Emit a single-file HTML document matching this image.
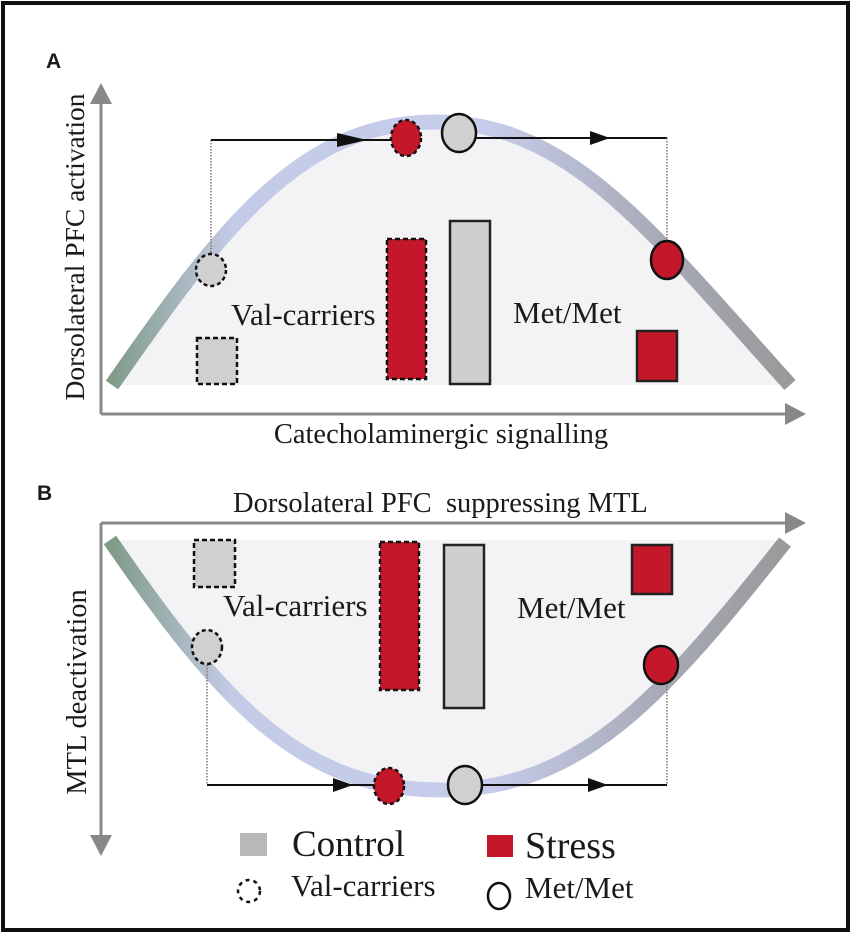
<!DOCTYPE html>
<html><head><meta charset="utf-8"><style>
html,body{margin:0;padding:0;background:#fff;}
svg{display:block;}
text{font-family:"Liberation Serif",serif;fill:#1a1a1a;}
</style></head><body>
<svg width="851" height="934" viewBox="0 0 851 934" xmlns="http://www.w3.org/2000/svg">
<defs>
<linearGradient id="gA" x1="110" y1="0" x2="790" y2="0" gradientUnits="userSpaceOnUse">
<stop offset="0" stop-color="#7f9a86"/><stop offset="0.18" stop-color="#c3cbe6"/><stop offset="0.55" stop-color="#c7cdec"/><stop offset="0.8" stop-color="#a8abb8"/><stop offset="1" stop-color="#999"/>
</linearGradient>
</defs>
<rect x="3" y="3" width="845" height="927" fill="#fff" stroke="#111" stroke-width="4"/>
<text x="46" y="68" style="font-family:'Liberation Sans',sans-serif;font-weight:bold;font-size:21px">A</text>
<text x="37" y="500" style="font-family:'Liberation Sans',sans-serif;font-weight:bold;font-size:21px">B</text>

<!-- Panel A -->
<path d="M112,385 C220,230 300,122 435,122 C570,122 650,230 790,385 Z" fill="#f3f3f6"/>
<path d="M112,385 C220,230 300,122 435,122 C570,122 650,230 790,385" fill="none" stroke="url(#gA)" stroke-width="15"/>
<line x1="101" y1="414" x2="101" y2="100" stroke="#888" stroke-width="3"/>
<path d="M101,83 L90,104 L112,104 z" fill="#888"/>
<line x1="101" y1="414" x2="790" y2="414" stroke="#888" stroke-width="3"/>
<path d="M806,414 L785,403 L785,425 z" fill="#888"/>
<text transform="translate(84,247) rotate(-90)" text-anchor="middle" font-size="27.5">Dorsolateral PFC activation</text>
<text x="441" y="443" text-anchor="middle" font-size="28.5">Catecholaminergic signalling</text>

<line x1="211" y1="140" x2="211" y2="256" stroke="#8a7070" stroke-width="1.5" stroke-dasharray="1.5,1.5"/>
<line x1="211" y1="140" x2="392" y2="140" stroke="#111" stroke-width="2"/>
<path d="M367,140 L337,133 L337,147 z" fill="#111"/>
<line x1="476" y1="138" x2="667" y2="138" stroke="#111" stroke-width="2"/>
<path d="M610,138 L590,131 L590,145 z" fill="#111"/>
<line x1="667" y1="138" x2="667" y2="242" stroke="#8a7070" stroke-width="1.5" stroke-dasharray="1.5,1.5"/>
<ellipse cx="211" cy="270" rx="15" ry="16" fill="#d0d0d0" stroke="#111" stroke-width="2.5" stroke-dasharray="4,3"/>
<ellipse cx="406" cy="138" rx="15" ry="18" fill="#c4182a" stroke="#111" stroke-width="2.5" stroke-dasharray="4,3"/>
<ellipse cx="459" cy="133" rx="17" ry="19" fill="#d0d0d0" stroke="#111" stroke-width="2.5"/>
<ellipse cx="667" cy="260" rx="16" ry="19" fill="#c4182a" stroke="#111" stroke-width="2.5"/>
<rect x="197" y="338" width="40" height="46" fill="#d0d0d0" stroke="#111" stroke-width="2.5" stroke-dasharray="5,3"/>
<rect x="387" y="239" width="39" height="140" fill="#c4182a" stroke="#111" stroke-width="2.5" stroke-dasharray="5,3"/>
<rect x="450" y="221" width="40" height="163" fill="#cfcfcf" stroke="#222" stroke-width="2.5"/>
<rect x="637" y="331" width="40" height="50" fill="#c4182a" stroke="#222" stroke-width="2.5"/>
<text x="231" y="325" font-size="31">Val-carriers</text>
<text x="513" y="323" font-size="31">Met/Met</text>

<!-- Panel B -->
<path d="M110,540 C220,700 300,790 440,790 C580,790 660,700 785,542 L785,540 Z" fill="#f3f3f6"/>
<path d="M110,540 C220,700 300,790 440,790 C580,790 660,700 785,542" fill="none" stroke="url(#gA)" stroke-width="15"/>
<line x1="101" y1="523" x2="101" y2="840" stroke="#888" stroke-width="3"/>
<path d="M101,856 L90,835 L112,835 z" fill="#888"/>
<line x1="101" y1="523" x2="790" y2="523" stroke="#888" stroke-width="3"/>
<path d="M806,523 L785,512 L785,534 z" fill="#888"/>
<text x="233" y="512" font-size="28.5" xml:space="preserve">Dorsolateral PFC  suppressing MTL</text>
<text transform="translate(86,692) rotate(-90)" text-anchor="middle" font-size="28.5">MTL deactivation</text>

<line x1="207" y1="662" x2="207" y2="785" stroke="#8a7070" stroke-width="1.5" stroke-dasharray="1.5,1.5"/>
<line x1="207" y1="785" x2="375" y2="785" stroke="#111" stroke-width="2"/>
<path d="M353,785 L333,778 L333,792 z" fill="#111"/>
<line x1="482" y1="785" x2="667" y2="785" stroke="#111" stroke-width="2"/>
<path d="M608,785 L588,778 L588,792 z" fill="#111"/>
<line x1="667" y1="683" x2="667" y2="785" stroke="#8a7070" stroke-width="1.5" stroke-dasharray="1.5,1.5"/>
<ellipse cx="207" cy="647" rx="15" ry="17" fill="#d0d0d0" stroke="#111" stroke-width="2.5" stroke-dasharray="4,3"/>
<ellipse cx="389" cy="786" rx="15" ry="18" fill="#c4182a" stroke="#111" stroke-width="2.5" stroke-dasharray="4,3"/>
<ellipse cx="465" cy="785" rx="17" ry="19" fill="#d0d0d0" stroke="#111" stroke-width="2.5"/>
<ellipse cx="661" cy="665" rx="17" ry="19" fill="#c4182a" stroke="#111" stroke-width="2.5"/>
<rect x="194" y="540" width="41" height="47" fill="#d0d0d0" stroke="#111" stroke-width="2.5" stroke-dasharray="5,3"/>
<rect x="380" y="542" width="39" height="148" fill="#c4182a" stroke="#111" stroke-width="2.5" stroke-dasharray="5,3"/>
<rect x="444" y="545" width="40" height="163" fill="#cfcfcf" stroke="#222" stroke-width="2.5"/>
<rect x="632" y="545" width="40" height="49" fill="#c4182a" stroke="#222" stroke-width="2.5"/>
<text x="223" y="616" font-size="31">Val-carriers</text>
<text x="517" y="618" font-size="31">Met/Met</text>

<!-- Legend -->
<rect x="240" y="833" width="27" height="23" fill="#b8b8b8"/>
<text x="292" y="856" font-size="37">Control</text>
<circle cx="249" cy="891" r="11" fill="none" stroke="#111" stroke-width="2.5" stroke-dasharray="4,4"/>
<text x="291" y="896" font-size="31">Val-carriers</text>
<rect x="487" y="835" width="26" height="22" fill="#c4182a"/>
<text x="525" y="858" font-size="38">Stress</text>
<ellipse cx="499" cy="896" rx="11" ry="13" fill="none" stroke="#111" stroke-width="2.5"/>
<text x="525" y="898" font-size="31">Met/Met</text>
</svg>
</body></html>
